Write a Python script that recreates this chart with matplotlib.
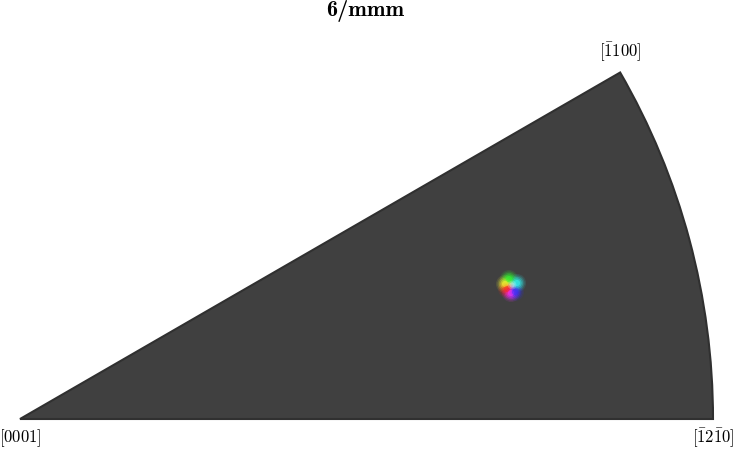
import os
import matplotlib
matplotlib.use("Agg")
import matplotlib.pyplot as plt
from matplotlib.patches import Wedge
from matplotlib.font_manager import FontProperties
import numpy as np

plt.rcParams['mathtext.fontset'] = 'cm'

# Sector (fundamental region of 6/mmm): angular range in degrees, unit radius
sector_theta = [0, 30]
sector_radius = 1.0

# Vertex labels and their positions (x, y in projected units)
vertex_labels = [r'$[0001]$', r'$[\bar{1}2\bar{1}0]$', r'$[\bar{1}100]$']
vertex_x = [0.0, 1.0, np.cos(np.radians(30))]
vertex_y = [0.0, 0.0, np.sin(np.radians(30))]

# Orientation spot: points and their colours
spot_x = [0.7056, 0.6999, 0.7027, 0.7085, 0.7143, 0.7172, 0.7100]
spot_y = [0.2020, 0.1948, 0.1876, 0.1818, 0.1833, 0.1962, 0.1934]
spot_c = ['#30ff30', '#ffff30', '#ff2020', '#ff30ff', '#3030ff', '#30ffff', '#ffffff']

fig = plt.figure(figsize=(7.33, 4.49), dpi=100)
ax = fig.add_axes([0, 0, 1, 1])
scale = 693.0
ax.set_xlim(-20 / scale, 713 / scale)
ax.set_ylim(-30 / scale, 419 / scale)
ax.set_aspect('auto')
ax.axis('off')

w = Wedge((0, 0), sector_radius, sector_theta[0], sector_theta[1],
          facecolor='#404040', edgecolor='#303030', linewidth=1.5, joinstyle='miter')
ax.add_patch(w)

# blurred spot: layered soft markers
for size, alpha in [(170, 0.10), (120, 0.16), (80, 0.25), (45, 0.35), (20, 0.5)]:
    ax.scatter(spot_x[:-1], spot_y[:-1], s=size, c=spot_c[:-1], alpha=alpha,
               edgecolors='none', zorder=3)
for size, alpha in [(40, 0.2), (15, 0.3)]:
    ax.scatter(spot_x[-1:], spot_y[-1:], s=size, c=spot_c[-1:], alpha=alpha,
               edgecolors='none', zorder=4)

# labels
offsets = [(0, -19), (0, -19), (0, 20)]
for lab, x, y, (dx, dy) in zip(vertex_labels, vertex_x, vertex_y, offsets):
    ax.annotate(lab, (x, y), xytext=(dx * 0.72, dy * 0.72), textcoords='offset points',
                ha='center', va='center', fontsize=12, color='black')

bold_font = FontProperties(fname=os.path.join(matplotlib.get_data_path(),
                                              'fonts', 'ttf', 'cmb10.ttf'), size=16)
fig.text(365 / 733, 1 - 11 / 449, '6/mmm', ha='center', va='center',
         fontproperties=bold_font)

fig.savefig('out.png', dpi=100)
